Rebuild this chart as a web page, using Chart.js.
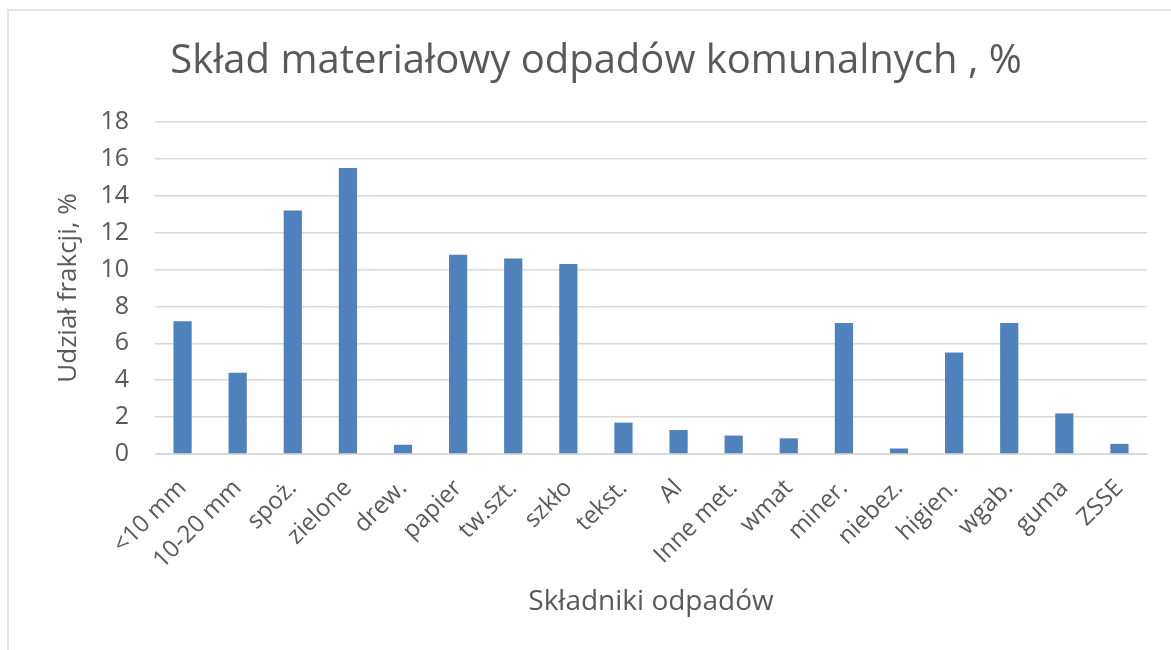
<!DOCTYPE html>
<html>
<head>
<meta charset="utf-8">
<script src="https://cdn.jsdelivr.net/npm/chart.js@4"></script>
<style>
    html, body { margin: 0; padding: 0; background: #ffffff; }
    #wrap { position: relative; width: 1171px; height: 650px; overflow: hidden; }
    #frame {
        position: absolute; left: 7px; top: 9px; right: -4px; bottom: -4px;
        border-top: 2px solid #e3e3e3; border-left: 2px solid #e3e3e3;
    }
    canvas { position: absolute; left: 0; top: 0; }
</style>
</head>
<body>
<div id="wrap">
    <div id="frame"></div>
    <canvas id="chart" width="1171" height="650"></canvas>
</div>
<script>
// kategorie i udziały (%)
const categories = ['<10 mm', '10-20 mm', 'spoż.', 'zielone', 'drew.', 'papier', 'tw.szt.', 'szkło', 'tekst.',
    'Al', 'Inne met.', 'wmat', 'miner.', 'niebez.', 'higien.', 'wgab.', 'guma', 'ZSSE'];
const shares = [7.2, 4.4, 13.2, 15.5, 0.5, 10.8, 10.6, 10.3, 1.7, 1.3, 1.0, 0.85, 7.1, 0.3, 5.5, 7.1, 2.2, 0.55];
const yTicks = [0, 2, 4, 6, 8, 10, 12, 14, 16, 18];

const textColor = '#595959';
const fontFamily = '"Open Sans", Lato, sans-serif';

Chart.defaults.font.family = fontFamily;
Chart.defaults.color = textColor;

new Chart(document.getElementById('chart').getContext('2d'), {
    type: 'bar',
    data: {
        labels: categories,
        datasets: [{
            data: shares,
            backgroundColor: '#4f81bd',
            categoryPercentage: 1.0,
            barPercentage: 0.33
        }]
    },
    options: {
        responsive: false,
        animation: false,
        layout: { padding: { left: 45, right: 24, top: 0, bottom: 0 } },
        plugins: {
            legend: { display: false },
            tooltip: { enabled: false },
            title: {
                display: true,
                text: 'Skład materiałowy odpadów komunalnych , %',
                color: textColor,
                font: { size: 40, weight: 'normal' },
                padding: { top: 38, bottom: 36 }
            }
        },
        scales: {
            x: {
                afterFit: (scale) => { scale.height = 196; },
                grid: { display: false, drawTicks: false },
                border: { display: true, color: '#d9d9d9', width: 1 },
                ticks: {
                    color: textColor,
                    font: { size: 24 },
                    maxRotation: 45,
                    minRotation: 45,
                    autoSkip: false,
                    padding: 20
                },
                title: {
                    display: true,
                    text: 'Składniki odpadów',
                    color: textColor,
                    font: { size: 28 },
                    padding: { top: 0, bottom: 31 }
                }
            },
            y: {
                min: 0,
                max: 18,
                afterFit: (scale) => { scale.width = 110; },
                afterBuildTicks: (scale) => { scale.ticks = yTicks.map(v => ({ value: v })); },
                grid: { color: '#d9d9d9', lineWidth: 1.5, drawTicks: false },
                border: { display: false },
                ticks: {
                    color: textColor,
                    font: { size: 25 },
                    padding: 26
                },
                title: {
                    display: true,
                    text: 'Udział frakcji, %',
                    color: textColor,
                    font: { size: 26 },
                    padding: { top: 8, bottom: 0 }
                }
            }
        }
    }
});
</script>
</body>
</html>
